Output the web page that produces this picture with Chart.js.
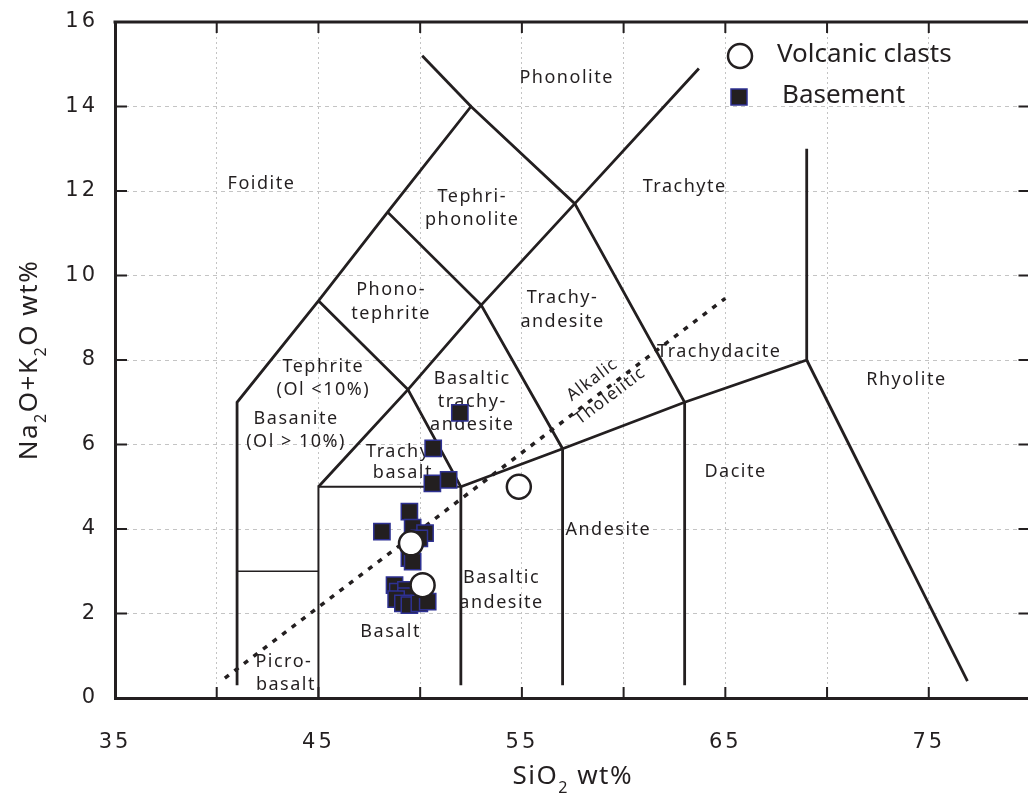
<!DOCTYPE html>
<html>
<head>
<meta charset="utf-8">
<title>TAS diagram</title>
<script src="https://cdn.jsdelivr.net/npm/chart.js@4.4.0/dist/chart.umd.min.js"></script>
<style>
  html, body { margin: 0; padding: 0; background: #fff; overflow: hidden; }
</style>
</head>
<body>
<canvas id="tas" width="1045" height="801"></canvas>
<script>
// samples (SiO2 wt%, Na2O+K2O wt%)
const volcanicSiO2 = [49.55, 50.12, 54.85];
const volcanicAlk = [3.66, 2.67, 5.0];

const basementSiO2 = [51.95, 50.64, 50.6, 51.4, 49.47, 48.12, 49.63, 50.24, 49.96, 49.47,
  49.63, 48.74, 48.9, 49.3, 49.3, 48.82, 49.15, 49.47, 49.96, 50.37];
const basementAlk = [6.75, 5.91, 5.08, 5.16, 4.41, 3.94, 4.03, 3.9, 3.78, 3.31,
  3.23, 2.67, 2.52, 2.56, 2.41, 2.34, 2.24, 2.2, 2.24, 2.28];

// field boundaries of the TAS diagram, as [SiO2, alkali] vertices
const outerBoundary = [[41, 0.3], [41, 7], [45, 9.4], [48.4, 11.5], [52.5, 14], [57.6, 11.7], [63, 7], [63, 0.3]];
const phonoliteEdge = [[50.1, 15.2], [52.5, 14]];
const trachyteEdge = [[45, 5], [49.4, 7.3], [53, 9.3], [57.6, 11.7], [63.7, 14.9]];
const tephriteEdge = [[45, 9.4], [49.4, 7.3], [52, 5], [52, 0.3]];
const trachyandesiteEdge = [[48.4, 11.5], [53, 9.3], [57, 5.9], [57, 0.3]];
const subalkalineEdge = [[52, 5], [57, 5.9], [63, 7], [69, 8], [69, 13]];
const rhyoliteEdge = [[69, 8], [76.9, 0.4]];
const basaltEdge = [[45, 0], [45, 5], [52, 5]];
const picrobasaltEdge = [[41, 3], [45, 3]];

// alkalic / tholeiitic divider
const dividerSiO2 = [40.4, 65.0];
const dividerAlk = [0.47, 9.46];

// field names and where they sit (SiO2, alkali)
const fieldNames = ['Foidite', 'Phonolite', 'Tephri-', 'phonolite', 'Trachyte', 'Phono-', 'tephrite',
  'Trachy-', 'andesite', 'Tephrite', '(Ol <10%)', 'Basanite', '(Ol > 10%)', 'Basaltic', 'trachy-',
  'andesite', 'Trachy-', 'basalt', 'Trachydacite', 'Rhyolite', 'Dacite', 'Andesite', 'Basaltic',
  'andesite', 'Basalt', 'Picro-', 'basalt'];
const fieldSiO2 = [42.2, 57.2, 52.56, 52.56, 63.0, 48.57, 48.57,
  57.0, 57.0, 45.24, 45.24, 43.9, 43.9, 52.56, 52.56,
  52.56, 49.1, 49.15, 64.7, 73.9, 65.5, 59.25, 54.0,
  54.0, 48.55, 43.3, 43.4];
const fieldAlk = [12.17, 14.67, 11.87, 11.31, 12.1, 9.66, 9.1,
  9.47, 8.9, 7.83, 7.29, 6.6, 6.06, 7.55, 7.0,
  6.46, 5.82, 5.32, 8.19, 7.53, 5.35, 3.98, 2.84,
  2.25, 1.56, 0.85, 0.3];

const dividerNames = ['Alkalic', 'Tholeiitic'];
const dividerNameSiO2 = [58.46, 59.34];
const dividerNameAlk = [7.53, 7.15];

const xTicks = [35, 45, 55, 65, 75];

const ink = '#231f20';
const font = '"Noto Sans", "Open Sans", sans-serif';

const toXY = (xs, ys) => xs.map((v, i) => ({ x: v, y: ys[i] }));
const edge = (pts, w) => ({
  data: pts.map(p => ({ x: p[0], y: p[1] })),
  showLine: true,
  borderColor: ink,
  borderWidth: w,
  pointRadius: 0,
  fill: false
});

const datasets = [
  {
    label: 'Volcanic clasts',
    data: toXY(volcanicSiO2, volcanicAlk),
    pointStyle: 'circle',
    pointRadius: 12,
    backgroundColor: '#ffffff',
    borderColor: ink,
    borderWidth: 2.5
  },
  {
    label: 'Basement',
    data: toXY(basementSiO2, basementAlk),
    pointStyle: 'rect',
    pointRadius: 11.5,
    backgroundColor: ink,
    borderColor: '#2e3192',
    borderWidth: 1.5
  },
  edge(outerBoundary, 2.8),
  edge(phonoliteEdge, 2.8),
  edge(trachyteEdge, 2.8),
  edge(tephriteEdge, 2.8),
  edge(trachyandesiteEdge, 2.8),
  edge(subalkalineEdge, 2.8),
  edge(rhyoliteEdge, 2.8),
  edge(basaltEdge, 2),
  edge(picrobasaltEdge, 1.6),
  Object.assign(edge(dividerSiO2.map((v, i) => [v, dividerAlk[i]]), 3.5), { borderDash: [5, 7] })
];

// draws subscript-aware text, parts = [[text, isSub], ...]
function richText(ctx, parts, x, y, size) {
  let total = 0;
  const widths = parts.map(([t, sub]) => {
    ctx.font = (sub ? size * 0.62 : size) + 'px ' + font;
    const w = ctx.measureText(t).width;
    total += w;
    return w;
  });
  let cx = x - total / 2;
  parts.forEach(([t, sub], i) => {
    ctx.font = (sub ? size * 0.62 : size) + 'px ' + font;
    ctx.fillText(t, cx, sub ? y + size * 0.42 : y);
    cx += widths[i];
  });
}

// scale label overflow must not push the plot area around
const noPad = s => { s.paddingTop = 0; s.paddingBottom = 0; s.paddingLeft = 0; s.paddingRight = 0; };

const tasDecor = {
  id: 'tasDecor',
  beforeDraw(chart) {
    // tick numbers are spaced out in the original
    chart.ctx.letterSpacing = '3px';
  },
  beforeDatasetsDraw(chart) {
    const { ctx, scales: { x, y } } = chart;
    ctx.save();
    ctx.fillStyle = ink;
    ctx.textAlign = 'center';
    ctx.textBaseline = 'middle';
    ctx.font = '18px ' + font;
    ctx.letterSpacing = '1.5px';
    fieldNames.forEach((name, i) => {
      ctx.fillText(name, x.getPixelForValue(fieldSiO2[i]), y.getPixelForValue(fieldAlk[i]));
    });
    // labels along the dashed divider
    const ang = Math.atan2(
      y.getPixelForValue(dividerAlk[1]) - y.getPixelForValue(dividerAlk[0]),
      x.getPixelForValue(dividerSiO2[1]) - x.getPixelForValue(dividerSiO2[0]));
    ctx.font = '17px ' + font;
    ctx.letterSpacing = '1.2px';
    dividerNames.forEach((name, i) => {
      ctx.save();
      ctx.translate(x.getPixelForValue(dividerNameSiO2[i]), y.getPixelForValue(dividerNameAlk[i]));
      ctx.rotate(ang);
      ctx.fillText(name, 0, 0);
      ctx.restore();
    });
    ctx.restore();
  },
  afterDraw(chart) {
    const { ctx, chartArea: a, scales: { x, y } } = chart;
    ctx.save();
    ctx.strokeStyle = ink;
    ctx.lineWidth = 3;
    ctx.beginPath();
    ctx.moveTo(a.left - 1.5, a.top);
    ctx.lineTo(a.right, a.top);
    ctx.lineTo(a.right, a.bottom);
    ctx.stroke();

    // inward tick marks
    ctx.lineWidth = 2;
    ctx.beginPath();
    x.ticks.forEach(t => {
      const px = x.getPixelForValue(t.value);
      if (px <= a.left + 1 || px >= a.right - 1) return;
      ctx.moveTo(px, a.bottom); ctx.lineTo(px, a.bottom - 11);
      ctx.moveTo(px, a.top); ctx.lineTo(px, a.top + 11);
    });
    y.ticks.forEach(t => {
      const py = y.getPixelForValue(t.value);
      if (py <= a.top + 1 || py >= a.bottom - 1) return;
      ctx.moveTo(a.left, py); ctx.lineTo(a.left + 12, py);
      ctx.moveTo(a.right, py); ctx.lineTo(a.right - 12, py);
    });
    ctx.stroke();

    // axis titles
    ctx.fillStyle = ink;
    ctx.textAlign = 'left';
    ctx.textBaseline = 'middle';
    ctx.letterSpacing = '1.5px';
    richText(ctx, [['SiO', false], ['2', true], [' wt%', false]], (a.left + a.right) / 2, 777, 26);
    ctx.save();
    ctx.translate(a.left - 85, (a.top + a.bottom) / 2);
    ctx.rotate(-Math.PI / 2);
    richText(ctx, [['Na', false], ['2', true], ['O+K', false], ['2', true], ['O wt%', false]], 0, 0, 26);
    ctx.restore();

    // legend
    ctx.letterSpacing = '0px';
    ctx.lineWidth = 2.5;
    ctx.fillStyle = '#fff';
    ctx.beginPath();
    ctx.arc(740, 56, 12, 0, Math.PI * 2);
    ctx.fill();
    ctx.stroke();
    ctx.fillStyle = ink;
    ctx.strokeStyle = '#2e3192';
    ctx.lineWidth = 1.5;
    ctx.fillRect(731, 89, 16, 16);
    ctx.strokeRect(731, 89, 16, 16);
    ctx.font = '26px ' + font;
    ctx.fillText('Volcanic clasts', 777, 55);
    ctx.fillText('Basement', 782, 96);
    ctx.restore();
  }
};

new Chart(document.getElementById('tas'), {
  type: 'scatter',
  data: { datasets },
  plugins: [tasDecor],
  options: {
    responsive: false,
    animation: false,
    events: [],
    layout: { padding: { top: 22, right: 8, left: 0, bottom: 0 } },
    plugins: { legend: { display: false }, tooltip: { enabled: false } },
    scales: {
      x: {
        type: 'linear',
        min: 35,
        max: 80,
        afterFit: s => { s.height = 103; noPad(s); },
        ticks: {
          stepSize: 5,
          autoSkip: false,
          maxRotation: 0,
          padding: 32,
          color: ink,
          font: { family: 'DejaVu Sans', size: 21 },
          callback: v => xTicks.includes(v) ? String(v) : ''
        },
        grid: { color: '#c4c4c4', lineWidth: 1, drawTicks: false },
        border: { display: true, color: ink, width: 3, dash: [2, 3] }
      },
      y: {
        type: 'linear',
        min: 0,
        max: 16,
        afterFit: s => { s.width = 115; noPad(s); },
        ticks: {
          stepSize: 2,
          autoSkip: false,
          padding: 17,
          color: ink,
          font: { family: 'DejaVu Sans', size: 21 }
        },
        grid: { color: '#c4c4c4', lineWidth: 1, drawTicks: false },
        border: { display: true, color: ink, width: 3, dash: [4, 4] }
      }
    }
  }
});
</script>
</body>
</html>
